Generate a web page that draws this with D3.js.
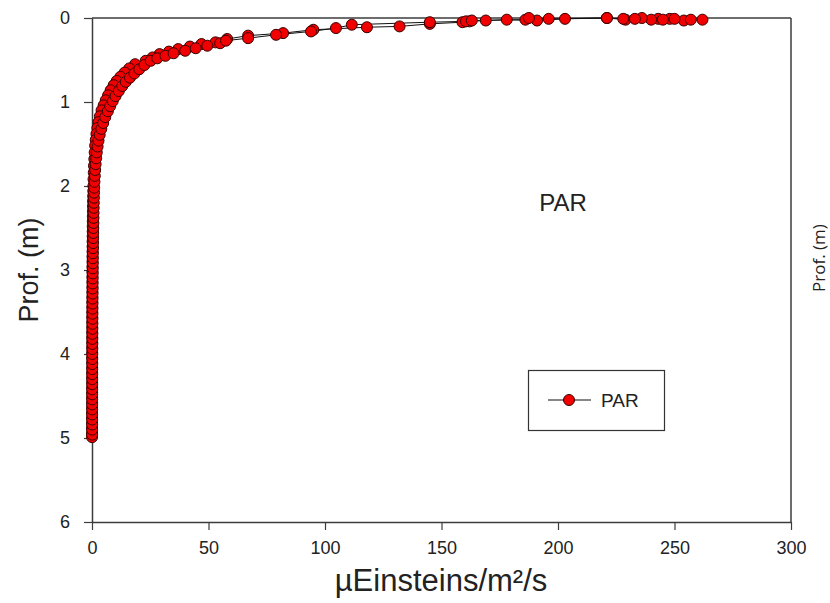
<!DOCTYPE html>
<html>
<head>
<meta charset="utf-8">
<script src="https://cdn.jsdelivr.net/npm/d3@7"></script>
<style>
  html, body { margin: 0; padding: 0; background: #fff; }
  svg { display: block; }
  .tick text { font-family: "Liberation Sans Narrow", "Liberation Sans", Arial, sans-serif; font-size: 18px; fill: #222; }
</style>
</head>
<body>
<svg id="chart" width="830" height="603"></svg>
<script>
// PAR profile: downcast (surface -> bottom) and upcast (bottom -> surface)
const depthDown = [0.02,0.03,0.01,0.01,0.02,0.00,0.02,0.00,0.01,0.03,0.02,0.03,0.04,0.05,0.07,0.10,0.11,0.14,0.18,0.21,0.25,0.29,0.31,0.34,0.37,0.40,0.43,0.47,0.51,
  0.55,0.60,0.65,0.70,0.75,0.80,0.86,0.92,0.98,1.04,1.10,1.17,1.24,1.31,1.38,1.45,1.52,1.60,1.68,1.76,1.84,1.92,2.00,
  2.06,2.12,2.18,2.24,2.30,2.36,2.42,2.48,2.54,2.60,2.66,2.72,2.78,2.84,2.90,2.96,3.02,3.08,3.14,3.20,3.26,3.32,3.38,3.44,3.50,
  3.56,3.62,3.68,3.74,3.80,3.86,3.92,3.98,4.04,4.10,4.16,4.22,4.28,4.34,4.40,4.46,4.52,4.58,4.64,4.70,4.76,4.82,4.88,4.94,4.99];
const parDown = [262,254,248,243,240,236,229,221,203,191,178,169,162,159,145,132,118,95,82,67,58,53,47,42,37,33,29,26,23,
  18.5,16,14,12.2,10.6,9.3,8.0,6.9,5.9,5.0,4.1,3.4,2.8,2.3,1.9,1.6,1.35,1.15,1.0,0.85,0.75,0.65,0.6,
  0.55,0.5,0.45,0.42,0.4,0.36,0.33,0.3,0.3,0.28,0.25,0.24,0.22,0.2,0.2,0.18,0.17,0.16,0.15,0.15,0.14,0.13,0.12,0.12,0.11,
  0.1,0.1,0.1,0.09,0.09,0.08,0.08,0.08,0.07,0.07,0.07,0.06,0.06,0.06,0.05,0.05,0.05,0.05,0.04,0.04,0.04,0.04,0.03,0.03,0.03];

const depthUp = [4.96,4.90,4.84,4.78,4.72,4.66,4.60,4.54,4.48,4.42,4.36,4.30,4.24,4.18,4.12,4.06,4.00,3.94,3.88,3.82,3.76,3.70,3.64,3.58,3.52,
  3.46,3.40,3.34,3.28,3.22,3.16,3.10,3.04,2.98,2.92,2.86,2.80,2.74,2.68,2.62,2.56,2.50,2.44,2.38,2.32,2.26,2.20,2.14,2.08,2.02,
  1.95,1.88,1.81,1.74,1.67,1.60,1.53,1.46,1.39,1.32,1.25,1.18,1.11,1.05,0.99,0.93,0.87,0.81,0.76,0.71,0.66,0.61,0.56,0.51,
  0.48,0.45,0.42,0.39,0.36,0.33,0.30,0.27,0.24,0.20,0.16,0.12,0.08,0.05,0.04,0.03,0.02,0.00,0.01,0.00,0.01,0.01,0.02,0.01,0.02];
const parUp = [0.05,0.05,0.06,0.06,0.06,0.07,0.07,0.08,0.08,0.09,0.09,0.1,0.1,0.11,0.12,0.12,0.13,0.14,0.15,0.15,0.16,0.17,0.18,0.19,0.2,
  0.21,0.22,0.24,0.25,0.27,0.28,0.3,0.32,0.34,0.36,0.38,0.4,0.43,0.46,0.49,0.52,0.56,0.6,0.64,0.68,0.72,0.77,0.82,0.88,0.94,
  1.05,1.2,1.35,1.55,1.8,2.05,2.4,2.8,3.3,4.0,4.8,5.7,6.8,7.8,8.9,10.1,11.5,13.0,14.5,16.3,18.2,20.3,22.5,25.2,
  28,31.5,35,40,44.5,49.5,55,57.5,67,79,94,104.7,111.5,145,160.5,163,186,187.5,196,221,228,233,245,250,257];

const xTicks = [0, 50, 100, 150, 200, 250, 300];
const yTicks = [0, 1, 2, 3, 4, 5, 6];
const seriesName = "PAR";
const xTitle = "µEinsteins/m²/s";
const yTitle = "Prof. (m)";

const profile = depthDown.map((d, i) => ({ depth: d, par: parDown[i] }))
  .concat(depthUp.map((d, i) => ({ depth: d, par: parUp[i] })));

const svg = d3.select("#chart");
const x = d3.scaleLinear().domain([0, 300]).range([92, 791]);
const y = d3.scaleLinear().domain([0, 6]).range([18, 522]);
const axisColor = "#3c3c3c";

// frame: top and right edges
svg.append("line").attr("x1", x(0)).attr("x2", x(300)).attr("y1", y(0)).attr("y2", y(0))
  .attr("stroke", axisColor).attr("stroke-width", 1.5);
svg.append("line").attr("x1", x(300)).attr("x2", x(300)).attr("y1", y(0)).attr("y2", y(6))
  .attr("stroke", axisColor).attr("stroke-width", 1.5);

const xAxis = svg.append("g").attr("transform", `translate(0,${y(6)})`)
  .call(d3.axisBottom(x).tickValues(xTicks).tickFormat(d3.format("d"))
    .tickSize(8).tickSizeOuter(0).tickPadding(11));
const yAxis = svg.append("g").attr("transform", `translate(${x(0)},0)`)
  .call(d3.axisLeft(y).tickValues(yTicks).tickFormat(d3.format("d"))
    .tickSize(8).tickSizeOuter(0).tickPadding(14));
[xAxis, yAxis].forEach(g => {
  g.select(".domain").attr("stroke", axisColor).attr("stroke-width", 1.5);
  g.selectAll(".tick line").attr("stroke", axisColor).attr("stroke-width", 1.2);
});

// profile line and symbols
svg.append("path").datum(profile)
  .attr("fill", "none").attr("stroke", "#111").attr("stroke-width", 1)
  .attr("d", d3.line().x(d => x(d.par)).y(d => y(d.depth)));
svg.append("g").selectAll("circle").data(profile).join("circle")
  .attr("cx", d => x(d.par)).attr("cy", d => y(d.depth)).attr("r", 5.5)
  .attr("fill", "#f00000").attr("stroke", "#3a0000").attr("stroke-width", 1);

// titles
svg.append("text").attr("x", 441).attr("y", 591).attr("text-anchor", "middle")
  .style("font-family", "'Liberation Sans', Arial, sans-serif").style("font-size", "31px").attr("fill", "#222")
  .text(xTitle);
svg.append("text").attr("transform", "translate(38,270) rotate(-90)").attr("text-anchor", "middle")
  .style("font-family", "'Liberation Sans', Arial, sans-serif").style("font-size", "27px").attr("fill", "#222")
  .text(yTitle);
svg.append("text").attr("transform", "translate(825,258) rotate(-90)").attr("text-anchor", "middle")
  .style("font-family", "'Open Sans', 'Noto Sans', sans-serif").style("font-size", "17px").attr("fill", "#222")
  .text(yTitle);
svg.append("text").attr("x", 563).attr("y", 211).attr("text-anchor", "middle")
  .style("font-family", "'Liberation Sans', Arial, sans-serif").style("font-size", "24px").attr("fill", "#222")
  .text(seriesName);

// legend
const lg = svg.append("g");
lg.append("rect").attr("x", 528.5).attr("y", 370.5).attr("width", 136).attr("height", 60)
  .attr("fill", "#fff").attr("stroke", "#333").attr("stroke-width", 1.2);
lg.append("line").attr("x1", 548).attr("x2", 591).attr("y1", 400).attr("y2", 400)
  .attr("stroke", "#111").attr("stroke-width", 1.2);
lg.append("circle").attr("cx", 569).attr("cy", 400).attr("r", 5.5)
  .attr("fill", "#f00000").attr("stroke", "#3a0000").attr("stroke-width", 1);
lg.append("text").attr("x", 601).attr("y", 407)
  .style("font-family", "'Liberation Sans', Arial, sans-serif").style("font-size", "19px").attr("fill", "#222")
  .text(seriesName);
</script>
</body>
</html>
